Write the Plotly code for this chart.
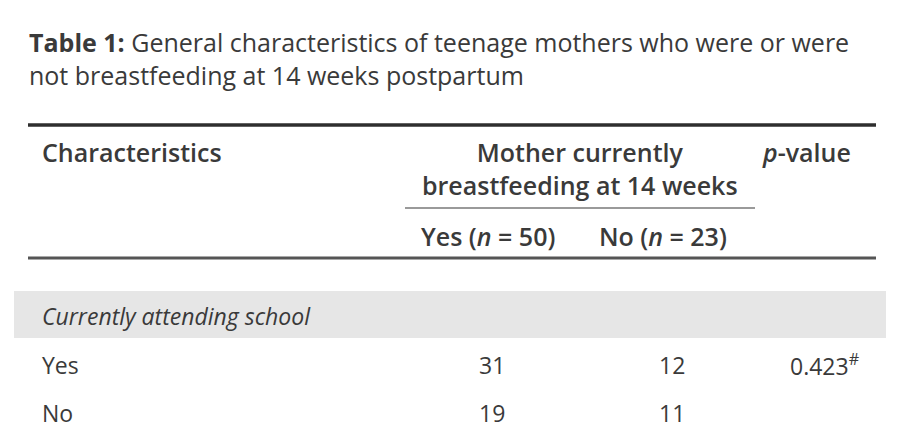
import plotly.graph_objects as go

# table content
title_bold = "Table 1:"
title_rest = " General characteristics of teenage mothers who were or were<br>not breastfeeding at 14 weeks postpartum"
group_label = "Mother currently<br>breastfeeding at 14 weeks"
col_labels = ["Yes (<i>n</i> = 50)", "No (<i>n</i> = 23)"]
section = "Currently attending school"
row_labels = ["Yes", "No"]
yes_counts = [31, 19]
no_counts = [12, 11]
p_values = ["0.423<sup>#</sup>", ""]

FONT = "Open Sans"
INK = "#3a3a3a"
W, H = 902, 435
OFF = 8  # page body margin, so axis units match window pixels

fig = go.Figure()
fig.update_layout(
    width=W, height=H, margin=dict(l=0, r=0, t=0, b=0),
    paper_bgcolor="white", plot_bgcolor="white", showlegend=False,
    xaxis=dict(range=[OFF, W + OFF], visible=False, fixedrange=True),
    yaxis=dict(range=[H + OFF, OFF], visible=False, fixedrange=True),
    font=dict(family=FONT, color=INK),
)


def txt(x, y, s, size=23, anchor="left", weight="normal", italic=False):
    fig.add_annotation(
        x=x, y=y, text=s, showarrow=False, xanchor=anchor, yanchor="middle",
        align="center" if anchor == "center" else anchor,
        font=dict(size=size, family=FONT, color=INK, weight=weight,
                  style="italic" if italic else "normal"),
    )


def rule(x0, x1, y, width, color):
    fig.add_shape(type="line", x0=x0, x1=x1, y0=y, y1=y,
                  line=dict(color=color, width=width))


# caption
txt(27, 58, f"<b>{title_bold}</b>{title_rest}", size=25)

# header
rule(28, 876, 125, 3.5, "#2e2e2e")
txt(40, 152, "Characteristics", size=25, weight=600)
txt(580, 168, group_label, size=25, anchor="center", weight=600)
txt(760, 152, "<i>p</i>-value", size=25, weight=600)
rule(405, 755, 208, 2, "#9a9a9a")
col_x = [488, 663]
for cx, lab in zip(col_x, col_labels):
    txt(cx, 236, lab, size=25, anchor="center", weight=600)
rule(28, 876, 258, 3, "#555555")

# section band
fig.add_shape(type="rect", x0=14, x1=886, y0=291, y1=338,
              fillcolor="#e6e6e6", line=dict(width=0), layer="below")
txt(40, 316, section, italic=True)

# body rows
row_y = [365, 413]
for y, lab, a, b, p in zip(row_y, row_labels, yes_counts, no_counts, p_values):
    txt(40, y, lab)
    txt(492, y, str(a), anchor="center")
    txt(672, y, str(b), anchor="center")
    if p:
        txt(788, y, p)

fig.write_html("out.html")
